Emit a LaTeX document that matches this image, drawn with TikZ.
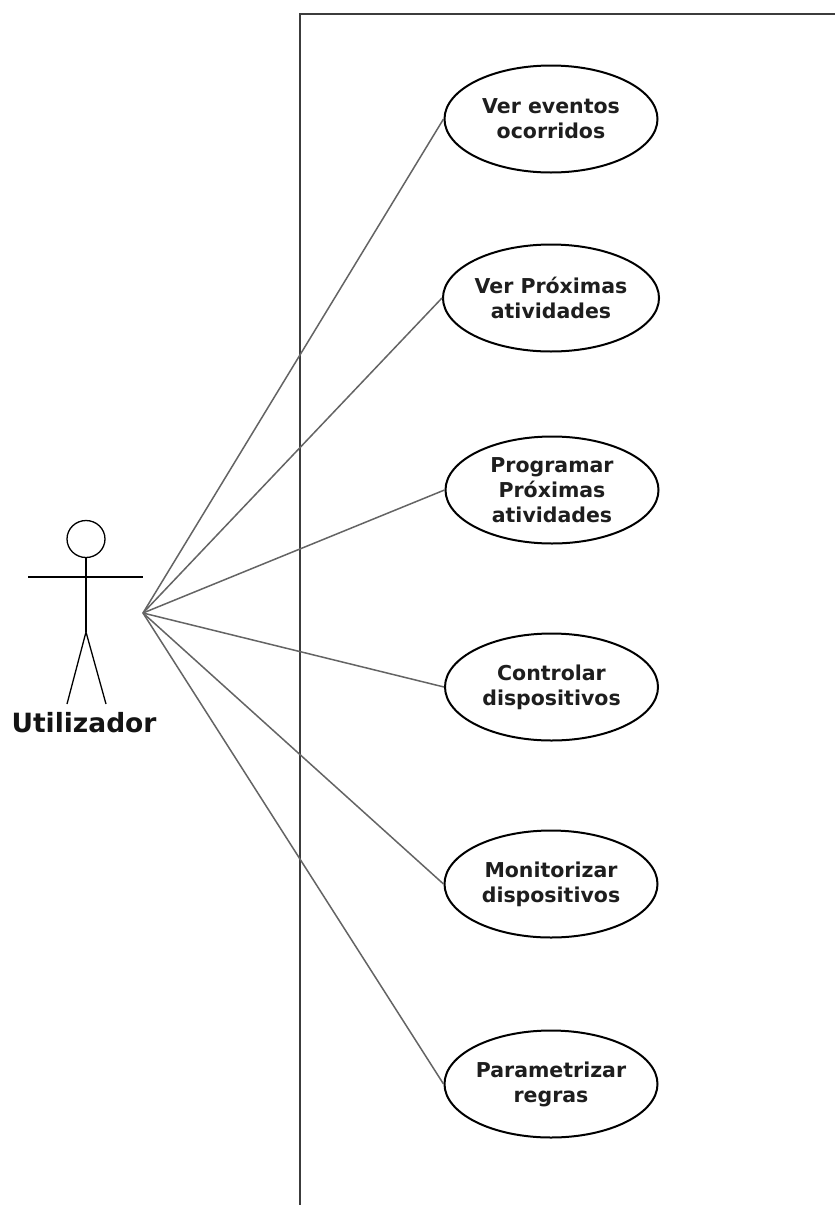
\documentclass[tikz,border=0pt]{standalone}
\usepackage{fontspec}
\setmainfont{DejaVu Sans}
\usetikzlibrary{shapes.geometric}
\begin{document}
\begin{tikzpicture}[x=1pt,y=-1pt,
  usecase/.style={ellipse,draw=black,line width=2pt,line join=round,minimum width=213pt,minimum height=107pt,
    inner sep=0pt,align=center,text={rgb,255:red,30;green,30;blue,30},
    font=\fontsize{20.5}{25}\selectfont\bfseries},
  assoc/.style={draw={rgb,255:red,100;green,100;blue,100},line width=1.5pt},
  actorline/.style={draw=black,line width=1.3pt},
  boundary/.style={draw={rgb,255:red,60;green,60;blue,60},line width=2.4pt}]
\useasboundingbox (0,0) rectangle (835,1205);
\fill[white] (0,0) rectangle (835,1205);

% system boundary (runs off the right and bottom edges)
\draw[boundary] (300,1210) -- (300,14) -- (840,14);

% actor
\draw[actorline] (86,539) circle [x radius=19pt,y radius=18.5pt];
\draw[actorline] (28,577) -- (143,577);
\draw[actorline] (86,557.5) -- (86,632);
\draw[actorline] (67,704) -- (86,632) -- (106,704);
\node[font=\fontsize{26.5}{30}\selectfont\bfseries,anchor=base,text={rgb,255:red,20;green,20;blue,20}] (actor) at (84,732) {Utilizador};
\coordinate (hub) at (143,613);

% use cases
\node[usecase] (uc1) at (551,119) {Ver eventos\\ocorridos};
\node[usecase] (uc2) at (551,298) {Ver Próximas\\atividades};
\node[usecase] (uc3) at (552,490) {Programar\\Próximas\\atividades};
\node[usecase] (uc4) at (551.5,687) {Controlar\\dispositivos};
\node[usecase] (uc5) at (551,884) {Monitorizar\\dispositivos};
\node[usecase] (uc6) at (551,1084) {Parametrizar\\regras};

% associations
\foreach \u in {uc1,uc2,uc3,uc4,uc5,uc6}
  \draw[assoc] (hub) -- (\u.west);
\end{tikzpicture}
\end{document}
